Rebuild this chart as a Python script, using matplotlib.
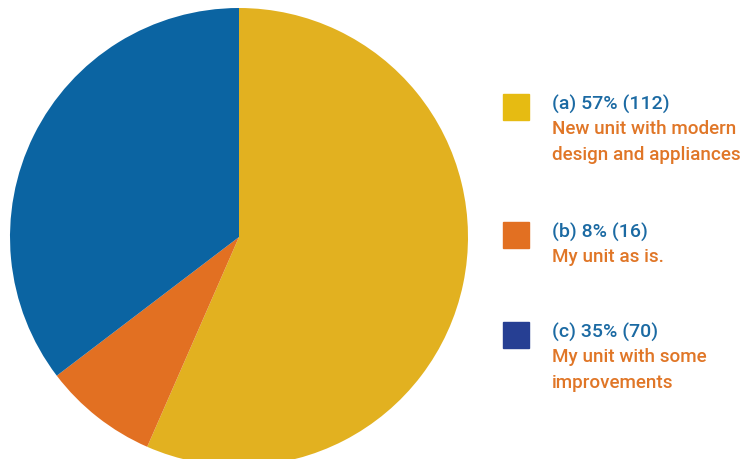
import matplotlib.pyplot as plt
from matplotlib.patches import Rectangle

# survey responses
labels = ["(a)", "(b)", "(c)"]
counts = [112, 16, 70]
percents = [57, 8, 35]
descriptions = [
    ["New unit with modern", "design and appliances"],
    ["My unit as is."],
    ["My unit with some", "improvements"],
]
slice_colors = ["#e2b120", "#e27022", "#0b64a2"]
key_colors = ["#e6bb12", "#e27022", "#263f93"]

W, H = 749, 459
fig = plt.figure(figsize=(W / 100, H / 100), dpi=100)
ax = fig.add_axes([0, 0, 1, 1])

ax.pie(counts, colors=slice_colors, startangle=90, counterclock=False,
       center=(239, H - 237), radius=229, frame=True)
ax.set_xlim(0, W)
ax.set_ylim(0, H)
ax.set_aspect("equal")
ax.axis("off")

# legend drawn by hand: coloured square + heading + description lines
font = dict(family="Roboto", weight="medium", ha="left", va="center")
key_tops = [94, 222, 322]
for lab, pct, n, desc, col, top in zip(labels, percents, counts, descriptions, key_colors, key_tops):
    ax.add_patch(Rectangle((503, H - top - 26), 26, 26, color=col))
    ax.text(552, H - top - 10, f"{lab} {pct}% ({n})", color="#1b6aa3",
            fontsize=14, **font)
    for i, line in enumerate(desc):
        ax.text(552, H - top - 35 - 25.5 * i, line, color="#e07627",
                fontsize=13.6, **font)

fig.savefig("out.png", dpi=100)
